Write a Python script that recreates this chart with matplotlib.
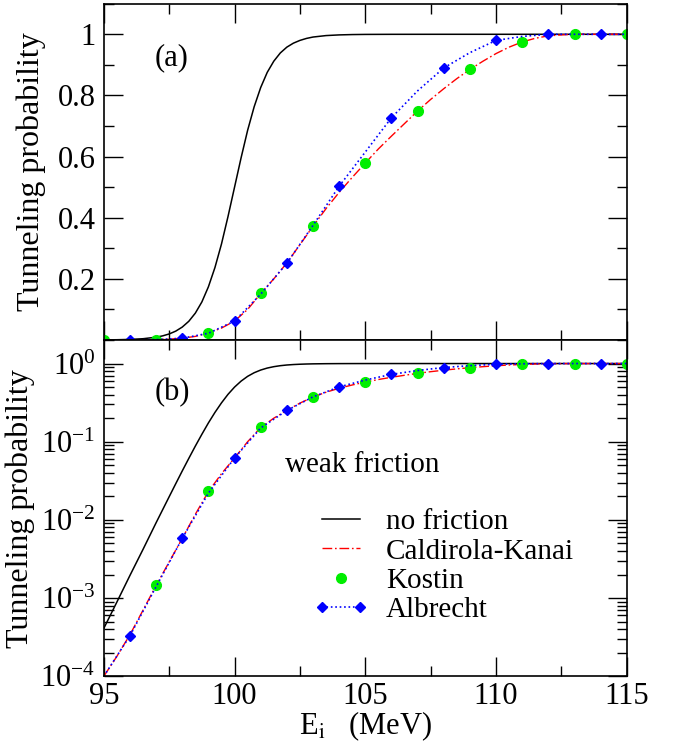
import numpy as np
import matplotlib
matplotlib.use("Agg")
import matplotlib.pyplot as plt
from matplotlib.ticker import FixedLocator, FixedFormatter, MultipleLocator, LogLocator, NullFormatter
from matplotlib.legend_handler import HandlerLine2D

plt.rcParams['font.family'] = 'serif'
plt.rcParams['font.serif'] = ['Liberation Serif', 'DejaVu Serif']
plt.rcParams['mathtext.fontset'] = 'stix'

# no friction
e_free = [95, 95.5, 96, 96.5, 97, 97.25, 97.5, 97.75, 98, 98.25, 98.5, 98.75, 99,
          99.25, 99.5, 99.75, 100, 100.25, 100.5, 100.75, 101, 101.25, 101.5,
          101.75, 102, 102.25, 102.5, 102.75, 103, 103.5, 104, 104.5, 105, 106,
          108, 110, 112, 115]
p_free = [4.1e-4, 8.9e-4, 1.95e-3, 4.2e-3, 9.2e-3, 0.0135, 0.0198, 0.029, 0.0423,
          0.0612, 0.0879, 0.1245, 0.174, 0.237, 0.314, 0.404, 0.5, 0.596, 0.686,
          0.763, 0.826, 0.8755, 0.912, 0.939, 0.958, 0.971, 0.980, 0.9865, 0.991,
          0.9958, 0.998, 0.9991, 0.9996, 0.9999, 1.0, 1.0, 1.0, 1.0]

# Caldirola-Kanai (red dash-dot)
e_ck = [95, 95.5, 96, 96.5, 97, 97.5, 98, 98.5, 99, 99.5, 100, 100.5, 101, 101.5,
        102, 102.5, 103, 103.5, 104, 104.5, 105, 105.5, 106, 106.5, 107, 107.5,
        108, 108.5, 109, 109.5, 110, 110.5, 111, 111.5, 112, 112.5, 113, 114, 115]
p_ck = [1.0e-4, 1.8e-4, 3.4e-4, 7.0e-4, 1.45e-3, 2.9e-3, 5.8e-3, 0.0118, 0.023,
        0.039, 0.062, 0.100, 0.152, 0.200, 0.252, 0.312, 0.372, 0.430, 0.483,
        0.532, 0.579, 0.625, 0.667, 0.708, 0.749, 0.787, 0.822, 0.855, 0.885,
        0.912, 0.937, 0.958, 0.975, 0.987, 0.995, 0.998, 1.0, 1.0, 1.0]

# Kostin (green circles)
e_kostin = [95, 97, 99, 101, 103, 105, 107, 109, 111, 113, 115]
p_kostin = [6e-5, 1.45e-3, 0.0235, 0.153, 0.374, 0.579, 0.749, 0.885, 0.975, 1.0, 1.0]

# Albrecht (blue diamonds, dotted)
e_alb = [95, 96, 97, 98, 99, 100, 101, 102, 103, 104, 105, 106, 107, 108, 109,
         110, 111, 112, 113, 114, 115]
p_alb = [1.0e-4, 3.3e-4, 1.4e-3, 5.8e-3, 0.022, 0.062, 0.15, 0.251, 0.375, 0.503,
         0.615, 0.727, 0.815, 0.890, 0.940, 0.980, 0.993, 1.0, 1.0, 1.0, 1.0]

lin_ticks = [0.2, 0.4, 0.6, 0.8, 1.0]
lin_labels = ['0.2', '0.4', '0.6', '0.8', '1']
x_ticks = [95, 100, 105, 110, 115]

fig = plt.figure(figsize=(6.74, 7.44), dpi=100)
ax1 = fig.add_axes([0.154, 0.543, 0.776, 0.452])
ax2 = fig.add_axes([0.154, 0.091, 0.776, 0.452])


def draw(ax):
    h = []
    h += ax.plot(e_free, p_free, color='black', lw=1.1, label='no friction')
    h += ax.plot(e_ck, p_ck, color='red', lw=1.0, dashes=[7, 2, 1.2, 2],
                 label='Caldirola-Kanai')
    h += ax.plot(e_kostin, p_kostin, 'o', color='#00ee00', ms=7, label='Kostin')
    h += ax.plot(e_alb, p_alb, color='blue', lw=1.2, ls=':', marker='D', ms=5.5,
                 markevery=slice(1, None, 2), label='Albrecht')
    ax.set_xlim(95, 115)
    ax.xaxis.set_major_locator(FixedLocator(x_ticks))
    ax.xaxis.set_minor_locator(MultipleLocator(2.5))
    ax.tick_params(which='both', direction='in', top=True, right=True, width=1.0)
    ax.tick_params(which='major', length=14, labelsize=22, pad=6)
    ax.tick_params(which='minor', length=7)
    for s in ax.spines.values():
        s.set_linewidth(1.2)
    return h


draw(ax1)
ax1.set_ylim(0, 1.1)
ax1.yaxis.set_major_locator(FixedLocator(lin_ticks))
ax1.yaxis.set_major_formatter(FixedFormatter(lin_labels))
ax1.yaxis.set_minor_locator(MultipleLocator(0.1))
ax1.tick_params(labelbottom=False)
ax1.set_ylabel('Tunneling probability', fontsize=23, labelpad=8)
ax1.text(0.098, 0.84, '(a)', transform=ax1.transAxes, fontsize=22, va='center')

handles = draw(ax2)
ax2.set_yscale('log')
ax2.set_ylim(1e-4, 2.0)
ax2.yaxis.set_major_locator(LogLocator(base=10, numticks=10))
ax2.yaxis.set_minor_locator(LogLocator(base=10, subs=np.arange(2, 10), numticks=10))
ax2.yaxis.set_minor_formatter(NullFormatter())
ax2.tick_params(axis='y', which='minor', length=7)
ax2.tick_params(axis='x', pad=4)
ax2.set_ylabel('Tunneling probability', fontsize=23, labelpad=4)
ax2.set_xlabel('E$_{\\mathrm{i}}$   (MeV)', fontsize=22, labelpad=-1)
ax2.text(0.098, 0.843, '(b)', transform=ax2.transAxes, fontsize=22, va='center')

ax2.text(0.346, 0.629, 'weak friction', transform=ax2.transAxes, fontsize=21,
         va='center', ha='left')
ax2.legend(handles=handles, loc='upper left', bbox_to_anchor=(0.40, 0.498),
           frameon=False, fontsize=21, handlelength=1.9, handletextpad=0.6,
           labelspacing=0.1, borderaxespad=0, borderpad=0, numpoints=2,
           handler_map={handles[2]: HandlerLine2D(numpoints=1)})

fig.savefig('out.png', dpi=100)
